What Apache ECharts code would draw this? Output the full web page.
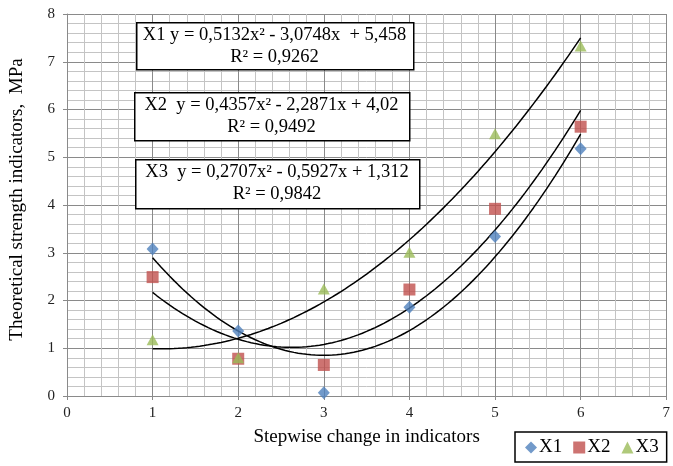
<!DOCTYPE html>
<html>
<head>
<meta charset="utf-8">
<script src="https://cdn.jsdelivr.net/npm/echarts@6/dist/echarts.min.js"></script>
<style>
html,body{margin:0;padding:0;background:#fff;}
#chart{width:673px;height:466px;}
</style>
</head>
<body>
<div id="chart"></div>
<script>
// ---- Data ----
const xValues = [1, 2, 3, 4, 5, 6];
const seriesNames = ['X1', 'X2', 'X3'];
const x1Values = [3.08, 1.36, 0.07, 1.86, 3.34, 5.18];
const x2Values = [2.49, 0.78, 0.65, 2.23, 3.92, 5.64];
const x3Values = [1.18, 0.80, 2.24, 3.01, 5.49, 7.33];
// polynomial trendline coefficients [a, b, c] for y = a x^2 + b x + c (as printed on chart)
const trend1 = [0.5132, -3.0748, 5.458];
const trend2 = [0.4357, -2.2871, 4.02];
const trend3 = [0.2707, -0.5927, 1.312];
const eqLabels = [
  ['X1 y = 0,5132x\u00B2 - 3,0748x  + 5,458', 'R\u00B2 = 0,9262'],
  ['X2  y = 0,4357x\u00B2 - 2,2871x + 4,02', 'R\u00B2 = 0,9492'],
  ['X3  y = 0,2707x\u00B2 - 0,5927x + 1,312', 'R\u00B2 = 0,9842']
];
const xAxisTitle = 'Stepwise change in indicators';
const yAxisTitle = 'Theoretical strength indicators,  MPa';

// ---- Build ----
const colors = ['#4F81BD', '#C0504D', '#9BBB59'];
const symbols = ['diamond', 'rect', 'triangle'];
const symbolSizes = [[12, 13], 12, [12, 11]];
const valuesList = [x1Values, x2Values, x3Values];
const trends = [trend1, trend2, trend3];

function trendPoints(c) {
  const pts = [];
  for (let i = 0; i <= 100; i++) {
    const x = xValues[0] + (xValues[xValues.length - 1] - xValues[0]) * i / 100;
    pts.push([x, c[0] * x * x + c[1] * x + c[2]]);
  }
  return pts;
}

const FONT = '"Liberation Serif", "Times New Roman", serif';
const series = [];
trends.forEach((c, i) => {
  series.push({
    name: 'trend' + (i + 1),
    type: 'line',
    data: trendPoints(c),
    showSymbol: false,
    symbol: 'none',
    lineStyle: { color: '#000', width: 1.5 },
    silent: true,
    z: 3
  });
});
valuesList.forEach((vals, i) => {
  series.push({
    name: seriesNames[i],
    type: 'scatter',
    data: xValues.map((x, j) => [x, vals[j]]),
    symbol: symbols[i],
    symbolSize: symbolSizes[i],
    itemStyle: { color: colors[i] },
    z: 4 + i
  });
});

const boxes = [
  { x: 136, y: 22, w: 277, h: 47 },
  { x: 134, y: 92, w: 275, h: 48 },
  { x: 135, y: 159, w: 284, h: 49 }
];
const graphics = [];
eqLabels.forEach((lines, i) => {
  const b = boxes[i];
  graphics.push({
    type: 'rect', left: b.x, top: b.y, z: 100,
    shape: { width: b.w, height: b.h },
    style: { fill: '#ffffff', stroke: '#000', lineWidth: 1.5 }
  });
  graphics.push({
    type: 'text', x: b.x + b.w / 2, y: b.y + 13, z: 101,
    style: { text: lines[0], font: '18.5px ' + FONT, fill: '#000', align: 'center', verticalAlign: 'middle' }
  });
  graphics.push({
    type: 'text', x: b.x + b.w / 2, y: b.y + 35, z: 101,
    style: { text: lines[1], font: '18.5px ' + FONT, fill: '#000', align: 'center', verticalAlign: 'middle' }
  });
});

const axisCommon = {
  type: 'value',
  interval: 1,
  axisLine: { show: true, lineStyle: { color: '#8a8a8a', width: 1 } },
  axisTick: { show: true, length: 4, lineStyle: { color: '#8a8a8a' } },
  splitLine: { show: true, lineStyle: { color: '#8a8a8a', width: 1 } },
  minorTick: { show: false, splitNumber: 5 },
  minorSplitLine: { show: true, lineStyle: { color: '#c4c4c4', width: 1 } },
  axisLabel: { color: '#222', fontFamily: FONT, fontSize: 15 },
  nameTextStyle: { color: '#000', fontFamily: FONT, fontSize: 19 }
};

const option = {
  animation: false,
  backgroundColor: '#fff',
  grid: { left: 67, right: 1, top: 14, bottom: 70, containLabel: false },
  xAxis: Object.assign({}, axisCommon, {
    min: 0, max: 7,
    name: xAxisTitle, nameLocation: 'middle', nameGap: 32,
    axisLabel: Object.assign({}, axisCommon.axisLabel, { margin: 10 })
  }),
  yAxis: Object.assign({}, axisCommon, {
    min: 0, max: 8,
    name: yAxisTitle, nameLocation: 'middle', nameGap: 40, nameRotate: 90,
    axisLabel: Object.assign({}, axisCommon.axisLabel, { margin: 12 }),
    nameTextStyle: Object.assign({}, axisCommon.nameTextStyle, { padding: [0, 0, 0, 11] })
  }),
  legend: {
    data: seriesNames.map((n, i) => ({ name: n, icon: symbols[i] })),
    left: 515, top: 432,
    orient: 'horizontal',
    itemWidth: 12, itemHeight: 12, itemGap: 11,
    padding: [6, 8, 5, 10],
    borderColor: '#000', borderWidth: 1.5,
    backgroundColor: '#fff',
    textStyle: { fontFamily: FONT, fontSize: 19, color: '#000', padding: [0, 0, 0, -3] }
  },
  graphic: graphics,
  series: series
};

const chart = echarts.init(document.getElementById('chart'), null, { renderer: 'canvas' });
chart.setOption(option);
</script>
</body>
</html>
